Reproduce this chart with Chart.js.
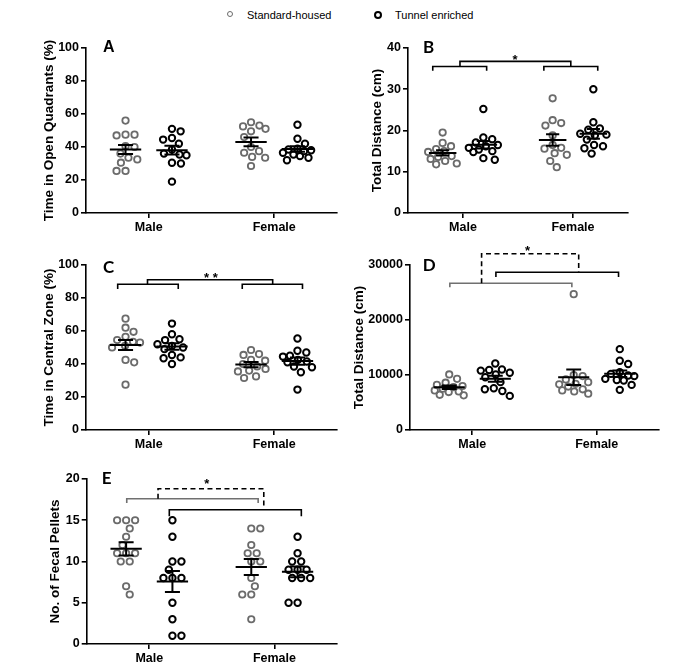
<!DOCTYPE html>
<html>
<head>
<meta charset="utf-8">
<script src="https://cdn.jsdelivr.net/npm/chart.js@4.4.1/dist/chart.umd.min.js"></script>
<style>
  body { margin: 0; background: #fff; width: 700px; height: 668px; position: relative; overflow: hidden;
         font-family: "Liberation Sans", Arial, sans-serif; }
  .panel { position: absolute; height: 220px; }
  .dot { position: absolute; width: 4px; height: 4px; border-radius: 50%; }
  .lab { position: absolute; font-size: 11px; line-height: 14px; color: #000; }
</style>
</head>
<body>
<span class="dot" style="left:227px;top:11px;border:1.6px solid #6b6b6b"></span>
<span class="lab" style="left:247px;top:8px">Standard-housed</span>
<span class="dot" style="left:374px;top:11px;border:2px solid #000"></span>
<span class="lab" style="left:395px;top:8px">Tunnel enriched</span>

<div class="panel" style="left:0;top:18px;width:345px"><canvas id="cA"></canvas></div>
<div class="panel" style="left:350px;top:18px;width:286px"><canvas id="cB"></canvas></div>
<div class="panel" style="left:0;top:235px;width:345px"><canvas id="cC"></canvas></div>
<div class="panel" style="left:350px;top:235px;width:317px"><canvas id="cD"></canvas></div>
<div class="panel" style="left:0;top:449px;width:345px"><canvas id="cE"></canvas></div>

<script>
const groups = ["Male", "Female"];
const seriesNames = ["Standard-housed", "Tunnel enriched"];

// A - time in open quadrants (%)
const aStdMale = [56, 47.5, 47, 47.5, 40, 40.5, 36, 33.5, 30.5, 32.5, 25.5, 25.5];
const aTunMale = [51, 49.5, 45.5, 44.5, 42, 38.5, 36, 35, 35.5, 30.5, 30, 19];
const aStdFemale = [55, 53, 52.5, 51, 49.5, 46, 40, 37.5, 36.5, 34, 33.5, 28.5];
const aTunFemale = [53.5, 45, 42, 39, 38.5, 38, 37.5, 36.5, 35.5, 34.5, 33.5, 32];
const aTicks = [0, 20, 40, 60, 80, 100];

// B - total distance (cm)
const bStdMale = [19.5, 17, 16.2, 15.5, 15, 14.8, 13.8, 13.6, 13.1, 12.6, 12, 11.8];
const bTunMale = [25.2, 18.3, 17.9, 17.1, 16.5, 16.2, 15.8, 15.4, 15, 14.8, 13.3, 12.9];
const bStdFemale = [27.8, 22.5, 21.8, 21.2, 18.8, 16.5, 15.8, 15.6, 14.5, 14.1, 12.6, 11.1];
const bTunFemale = [30, 22, 20.5, 20.2, 19.2, 19, 18.8, 17.8, 16.5, 16.2, 15.7, 14.4];
const bTicks = [0, 10, 20, 30, 40];

// C - time in central zone (%)
const cStdMale = [67.5, 62, 59.5, 56.5, 54.5, 53.5, 53, 51, 50, 42.5, 41, 27.5];
const cTunMale = [64.5, 58, 55, 54.5, 52, 51, 50, 49, 45.5, 44, 43.5, 40];
const cStdFemale = [48.5, 46, 45.5, 42.5, 42, 40, 38.5, 37, 36, 35.5, 32.5, 31.5];
const cTunFemale = [55.5, 48, 47, 45, 44.5, 42.5, 41.5, 41, 38.5, 38, 35, 24.5];
const cTicks = [0, 20, 40, 60, 80, 100];

// D - total distance (cm)
const dStdMale = [10100, 9300, 8600, 8200, 8000, 7800, 7500, 7200, 7000, 6900, 6400, 6300];
const dTunMale = [12100, 11000, 10900, 10800, 10400, 10100, 9600, 8700, 7600, 7400, 7100, 6200];
const dStdFemale = [24700, 10000, 9800, 9200, 8700, 8400, 8300, 7900, 7400, 7200, 7000, 6600];
const dTunFemale = [14700, 12600, 12000, 10500, 10200, 9900, 9800, 9300, 9100, 9000, 8200, 7300];
const dTicks = [0, 10000, 20000, 30000];

// E - no. of fecal pellets
const eStdMale = [15, 15, 15, 14, 13, 12, 11, 11, 11, 10, 10, 7, 6];
const eTunMale = [15, 13, 10, 10, 9, 8, 8, 8, 5, 3, 1, 1];
const eStdFemale = [14, 14, 12, 11, 11, 10, 10, 8, 7, 6, 6, 3];
const eTunFemale = [13, 11, 10, 10, 9, 9, 9, 8, 8, 8, 5, 5];
const eTicks = [0, 5, 10, 15, 20];

const GRAY = "#6b6b6b";
const LGRAY = "#707070";
const centers = [0.63, 1.37, 2.63, 3.37]; // std male, tun male, std female, tun female

Chart.defaults.font.family = '"Liberation Sans", Arial, sans-serif';
Chart.defaults.color = "#000";

function bracket(x1, x2, y, yLow, color) {
  return { pts: [[x1, yLow], [x1, y], [x2, y], [x2, yLow]], color: color || "#000" };
}

const panels = [
  { id: "cA", letter: "A", lx: 17, ly: 0, title: "Time in Open Quadrants (%)", yw: 86, tpad: 40.9,
    ticks: aTicks, sets: [aStdMale, aTunMale, aStdFemale, aTunFemale], lines: [], stars: [] },
  { id: "cB", letter: "B", lx: 15, ly: -0.5, title: "Total Distance (cm)", yw: 58, tpad: 18.9,
    ticks: bTicks, sets: [bStdMale, bTunMale, bStdFemale, bTunFemale],
    lines: [bracket(0.45, 1.43, 35.5, 34.5), bracket(2.47, 3.45, 35.5, 34.5), bracket(0.945, 2.96, 36.75, 35.5)],
    stars: [{ x: 1.945, y: 37.05, t: "*" }] },
  { id: "cC", letter: "C", lx: 17, ly: 2.5, title: "Time in Central Zone (%)", yw: 86, tpad: 40.9,
    ticks: cTicks, sets: [cStdMale, cTunMale, cStdFemale, cTunFemale],
    lines: [bracket(0.505, 1.47, 88.3, 85.5), bracket(2.49, 3.45, 88.3, 85.5), bracket(0.98, 2.975, 91.1, 88.3)],
    stars: [{ x: 1.99, y: 92.1, t: "* *" }] },
  { id: "cD", letter: "D", lx: 12.7, ly: 1, title: "Total Distance (cm)", yw: 60, tpad: 0.9,
    ticks: dTicks, sets: [dStdMale, dTunMale, dStdFemale, dTunFemale],
    lines: [bracket(0.64, 2.6, 26673, 25945, LGRAY), bracket(1.38, 3.35, 28673, 27818),
            { pts: [[1.15, 26673], [1.15, 32054], [2.71, 32054], [2.71, 28673]], color: "#000", dash: [5, 3.5] }],
    stars: [{ x: 1.89, y: 32490, t: "*" }] },
  { id: "cE", letter: "E", lx: 15, ly: -0.5, title: "No. of Fecal Pellets", yw: 86.7, tpad: 46.9,
    ticks: eTicks, sets: [eStdMale, eTunMale, eStdFemale, eTunFemale],
    lines: [bracket(0.64, 2.74, 17.6, 17.1, LGRAY), bracket(1.32, 3.43, 16.28, 15.47),
            { pts: [[1.14, 17.6], [1.14, 18.82], [2.83, 18.82], [2.83, 16.28]], color: "#000", dash: [5, 3.5] }],
    stars: [{ x: 1.92, y: 19.4, t: "*" }] }
];

function meanSem(v) {
  const n = v.length;
  const m = v.reduce((a, b) => a + b, 0) / n;
  const sd = Math.sqrt(v.reduce((a, b) => a + (b - m) * (b - m), 0) / (n - 1));
  return [m, sd / Math.sqrt(n)];
}

// beeswarm offsets in pixels, kept within +-lim (points overlap when crowded)
function swarm(vals, yPix, d, lim) {
  const placed = [];
  const out = new Array(vals.length);
  const order = vals.map((v, i) => i).sort((a, b) => vals[b] - vals[a]);
  let flip = 1;
  for (const i of order) {
    const y = yPix(vals[i]);
    const near = placed.filter(p => Math.abs(p.y - y) < d);
    const cand = [0];
    near.forEach(p => {
      const w = Math.sqrt(d * d - (p.y - y) * (p.y - y));
      cand.push(p.x - w, p.x + w);
    });
    cand.sort((a, b) => Math.abs(a) - Math.abs(b) || flip * (b - a));
    let x = cand.find(c => Math.abs(c) <= lim && near.every(p => (p.x - c) ** 2 + (p.y - y) ** 2 >= d * d - 0.01));
    if (x === undefined) {
      let best = -1;
      for (let c = -lim; c <= lim; c += 0.5) {
        const md = Math.min(...near.map(p => Math.hypot(p.x - c, p.y - y)));
        if (md > best) { best = md; x = c; }
      }
    }
    if (x !== 0) flip = -flip;
    placed.push({ x, y });
    out[i] = x;
  }
  return out;
}

const overlay = {
  id: "overlay",
  afterDraw(chart) {
    const p = chart.options.plugins.overlay.panel;
    const { ctx, chartArea } = chart;
    const xs = chart.scales.x, ys = chart.scales.y;
    const X = v => xs.getPixelForValue(v), Y = v => ys.getPixelForValue(v);
    ctx.save();
    // mean and SEM
    ctx.strokeStyle = "#000";
    ctx.lineWidth = 2;
    p.sets.forEach((vals, i) => {
      const [m, s] = meanSem(vals);
      const c = centers[i];
      ctx.beginPath();
      ctx.moveTo(X(c - 0.25), Y(m)); ctx.lineTo(X(c + 0.25), Y(m));
      ctx.moveTo(X(c), Y(m - s)); ctx.lineTo(X(c), Y(m + s));
      ctx.moveTo(X(c - 0.12), Y(m + s)); ctx.lineTo(X(c + 0.12), Y(m + s));
      ctx.moveTo(X(c - 0.12), Y(m - s)); ctx.lineTo(X(c + 0.12), Y(m - s));
      ctx.stroke();
    });
    // significance brackets
    ctx.lineWidth = 1.6;
    p.lines.forEach(l => {
      ctx.strokeStyle = l.color;
      ctx.setLineDash(l.dash || []);
      ctx.beginPath();
      l.pts.forEach((q, k) => k ? ctx.lineTo(X(q[0]), Y(q[1])) : ctx.moveTo(X(q[0]), Y(q[1])));
      ctx.stroke();
    });
    ctx.setLineDash([]);
    ctx.fillStyle = "#000";
    ctx.font = 'bold 13px "Liberation Sans", Arial, sans-serif';
    ctx.textAlign = "center";
    ctx.textBaseline = "middle";
    p.stars.forEach(s => ctx.fillText(s.t, X(s.x), Y(s.y)));
    // panel letter
    ctx.font = p.letter === "A" ? 'bold 16px "Liberation Sans", Arial, sans-serif' : 'bold 17px Lato, "Open Sans", sans-serif';
    ctx.textAlign = "left";
    ctx.fillText(p.letter, chartArea.left + p.lx, chartArea.top + p.ly);
    ctx.restore();
  }
};

panels.forEach(p => {
  const yMax = p.ticks[p.ticks.length - 1];
  const datasets = p.sets.map((vals, i) => ({
    label: seriesNames[i % 2],
    data: vals.map(v => ({ x: centers[i], y: v })),
    pointRadius: 3.2,
    pointHoverRadius: 3.2,
    pointBorderWidth: i % 2 ? 2 : 1.8,
    borderColor: i % 2 ? "#000" : GRAY,
    backgroundColor: "rgba(0,0,0,0)",
    clip: false
  }));
  const chart = new Chart(document.getElementById(p.id), {
    type: "scatter",
    data: { datasets },
    plugins: [overlay],
    options: {
      responsive: true,
      maintainAspectRatio: false,
      animation: false,
      events: [],
      layout: { padding: { top: 30, right: 8, left: 0, bottom: 0 } },
      plugins: { legend: { display: false }, tooltip: { enabled: false }, overlay: { panel: p } },
      scales: {
        x: {
          type: "linear", min: 0, max: 4,
          afterBuildTicks: s => { s.ticks = [{ value: 1 }, { value: 3 }]; },
          afterFit: s => { s.height = 25; },
          ticks: { callback: v => groups[(v - 1) / 2], font: { size: 12.5, weight: "bold" }, padding: 2, maxRotation: 0 },
          grid: { drawOnChartArea: false, drawTicks: true, tickLength: 5, color: "#000", lineWidth: 1.6 },
          border: { display: true, color: "#000", width: 1.6 }
        },
        y: {
          min: 0, max: yMax,
          afterBuildTicks: s => { s.ticks = p.ticks.map(v => ({ value: v })); },
          afterFit: s => { s.width = p.yw; },
          ticks: { callback: v => String(v), font: { size: 12.5, weight: "bold" }, padding: 2 },
          grid: { drawOnChartArea: false, drawTicks: true, tickLength: 5, color: "#000", lineWidth: 1.6 },
          border: { display: true, color: "#000", width: 1.6 },
          title: { display: true, text: p.title, font: { size: 13.5, weight: "bold" }, padding: { top: p.tpad, bottom: 0 } }
        }
      }
    }
  });
  // lay points out as a beeswarm around each group's centre
  const xs = chart.scales.x, ys = chart.scales.y;
  const ppu = xs.getPixelForValue(1) - xs.getPixelForValue(0);
  p.sets.forEach((vals, i) => {
    const off = swarm(vals, v => ys.getPixelForValue(v), 9, 14.5);
    chart.data.datasets[i].data = vals.map((v, k) => ({ x: centers[i] + off[k] / ppu, y: v }));
  });
  chart.update("none");
});
</script>
</body>
</html>
